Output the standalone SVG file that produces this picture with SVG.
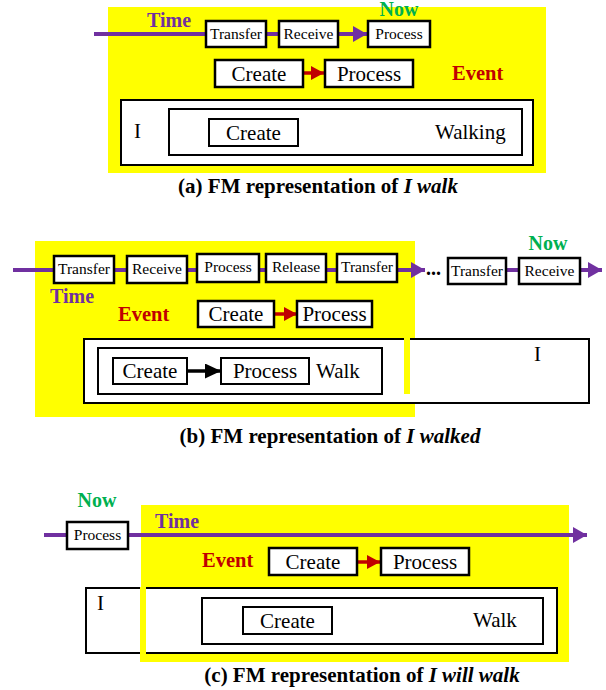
<svg xmlns="http://www.w3.org/2000/svg" width="606" height="690" viewBox="0 0 606 690" font-family="'Liberation Serif', 'DejaVu Serif', serif">
<style>
text{font-family:'Liberation Serif','DejaVu Serif',serif;fill:#000}
.sm{font-size:15.5px;text-anchor:middle}
.lg{font-size:21px;text-anchor:middle}
.plain{font-size:21px}
.time{font-size:20px;font-weight:bold;fill:#7030A0}
.now{font-size:20px;font-weight:bold;fill:#00B050;text-anchor:middle}
.event{font-size:20.5px;font-weight:bold;fill:#C00000}
.cap{font-size:21px;font-weight:bold;text-anchor:middle}
.box{fill:#fff;stroke:#000;stroke-width:2.5}
.frame{fill:#fff;stroke:#000;stroke-width:2}
.yel{fill:#FFFF00}
.tl{stroke:#7030A0;stroke-width:4;fill:none}
.ra{stroke:#C00000;stroke-width:3.5;fill:none}
.ba{stroke:#000;stroke-width:3.5;fill:none}
</style>
<defs>
<marker id="mp" viewBox="0 0 14 16" refX="14" refY="8" markerWidth="14" markerHeight="16" markerUnits="userSpaceOnUse" orient="auto"><path d="M0,0 L14,8 L0,16 z" fill="#7030A0"/></marker>
<marker id="mr" viewBox="0 0 13 14" refX="13" refY="7" markerWidth="13" markerHeight="14" markerUnits="userSpaceOnUse" orient="auto"><path d="M0,0 L13,7 L0,14 z" fill="#C00000"/></marker>
<marker id="mb" viewBox="0 0 16 15" refX="16" refY="7.5" markerWidth="16" markerHeight="15" markerUnits="userSpaceOnUse" orient="auto"><path d="M0,0 L16,7.5 L0,15 z" fill="#000"/></marker>
</defs>

<!-- backgrounds -->
<rect class="yel" x="108" y="7" width="438" height="166"/>
<rect class="yel" x="35" y="241" width="380" height="176"/>
<rect class="yel" x="141" y="505" width="428" height="157"/>

<!-- frames (I boxes) -->
<g id="a-I">
<rect class="frame" x="121" y="100" width="412" height="65"/>
<text class="plain" x="134" y="138">I</text>
</g>
<g id="a-walking">
<rect class="frame" x="169" y="109" width="353" height="46"/>
<text class="plain" x="435" y="139">Walking</text>
</g>
<g id="b-I">
<rect class="frame" x="84" y="339" width="505" height="64"/>
<text class="plain" x="534" y="361">I</text>
</g>
<rect class="yel" x="404" y="338" width="6" height="56"/>
<g id="b-walk">
<rect class="frame" x="98" y="348" width="284" height="46"/>
<text class="plain" x="316" y="378">Walk</text>
</g>
<g id="c-I">
<rect class="frame" x="86" y="588" width="471" height="65"/>
<text class="plain" x="97" y="610">I</text>
</g>
<rect class="yel" x="140" y="587" width="6" height="75"/>
<g id="c-walk">
<rect class="frame" x="202" y="598" width="341" height="46"/>
<text class="plain" x="473" y="627">Walk</text>
</g>

<!-- connectors -->
<g id="connectors">
<line class="tl" x1="94" y1="34" x2="206" y2="34"/>
<line class="tl" x1="266" y1="34" x2="279" y2="34"/>
<line class="tl" x1="338" y1="34" x2="367" y2="34" marker-end="url(#mp)"/>
<line class="ra" x1="303" y1="73" x2="324" y2="73" marker-end="url(#mr)"/>

<line class="tl" x1="13" y1="270" x2="54" y2="270"/>
<line class="tl" x1="114" y1="270" x2="127" y2="270"/>
<line class="tl" x1="187" y1="270" x2="197" y2="270"/>
<line class="tl" x1="259" y1="270" x2="266" y2="270"/>
<line class="tl" x1="326" y1="270" x2="337" y2="270"/>
<line class="tl" x1="397" y1="270" x2="425" y2="270" marker-end="url(#mp)"/>
<line class="tl" x1="506" y1="270" x2="519" y2="270"/>
<line class="tl" x1="580" y1="270" x2="602" y2="270" marker-end="url(#mp)"/>
<line class="ra" x1="274" y1="314" x2="297" y2="314" marker-end="url(#mr)"/>
<line class="ba" x1="187" y1="371" x2="221" y2="371" marker-end="url(#mb)"/>

<line class="tl" x1="44" y1="535" x2="67" y2="535"/>
<line class="tl" x1="128" y1="535" x2="587" y2="535" marker-end="url(#mp)"/>
<line class="ra" x1="357" y1="562" x2="380" y2="562" marker-end="url(#mr)"/>
</g>

<!-- labels -->
<text class="time" x="147" y="27">Time</text>
<text class="now" x="399" y="16">Now</text>
<text class="event" x="452" y="80">Event</text>
<text class="time" x="50" y="303">Time</text>
<text class="now" x="548" y="250">Now</text>
<text class="event" x="118" y="321">Event</text>
<text style="font-size:20px;font-weight:bold" x="426" y="275">...</text>
<text class="now" x="97" y="507">Now</text>
<text class="time" x="155" y="528">Time</text>
<text class="event" x="202" y="567">Event</text>

<!-- panel a nodes -->
<g id="a-transfer"><rect class="box" x="206" y="21" width="60" height="26"/><text class="sm" x="236" y="39">Transfer</text></g>
<g id="a-receive"><rect class="box" x="279" y="21" width="59" height="26"/><text class="sm" x="308.5" y="39">Receive</text></g>
<g id="a-process"><rect class="box" x="368" y="21" width="62" height="26"/><text class="sm" x="399" y="39">Process</text></g>
<g id="a-create2"><rect class="box" x="215" y="60" width="88" height="27"/><text class="lg" x="259" y="81">Create</text></g>
<g id="a-process2"><rect class="box" x="325" y="60" width="88" height="27"/><text class="lg" x="369" y="81">Process</text></g>
<g id="a-create3"><rect class="frame" x="209" y="119" width="89" height="27"/><text class="lg" x="253.5" y="140">Create</text></g>

<!-- panel b nodes -->
<g id="b-transfer1"><rect class="box" x="54" y="256" width="60" height="27"/><text class="sm" x="84" y="274">Transfer</text></g>
<g id="b-receive1"><rect class="box" x="127" y="256" width="60" height="27"/><text class="sm" x="157" y="274">Receive</text></g>
<g id="b-process1"><rect class="box" x="197" y="254" width="62" height="28"/><text class="sm" x="228" y="272">Process</text></g>
<g id="b-release"><rect class="box" x="266" y="254" width="60" height="28"/><text class="sm" x="296" y="272">Release</text></g>
<g id="b-transfer2"><rect class="box" x="337" y="254" width="60" height="28"/><text class="sm" x="367" y="272">Transfer</text></g>
<g id="b-transfer3"><rect class="box" x="448" y="258" width="58" height="26"/><text class="sm" x="477" y="276">Transfer</text></g>
<g id="b-receive2"><rect class="box" x="519" y="258" width="61" height="26"/><text class="sm" x="549.5" y="276">Receive</text></g>
<g id="b-create2"><rect class="box" x="198" y="301" width="76" height="26"/><text class="lg" x="236" y="321">Create</text></g>
<g id="b-process2"><rect class="box" x="297" y="301" width="75" height="26"/><text class="lg" x="334.5" y="321">Process</text></g>
<g id="b-create3"><rect class="frame" x="113" y="358" width="74" height="26"/><text class="lg" x="150" y="378">Create</text></g>
<g id="b-process3"><rect class="frame" x="221" y="358" width="88" height="26"/><text class="lg" x="265" y="378">Process</text></g>

<!-- panel c nodes -->
<g id="c-process1"><rect class="box" x="67" y="522" width="61" height="27"/><text class="sm" x="97.5" y="540">Process</text></g>
<g id="c-create2"><rect class="box" x="269" y="548" width="88" height="27"/><text class="lg" x="313" y="569">Create</text></g>
<g id="c-process2"><rect class="box" x="381" y="548" width="88" height="27"/><text class="lg" x="425" y="569">Process</text></g>
<g id="c-create3"><rect class="frame" x="243" y="607" width="89" height="27"/><text class="lg" x="287.5" y="628">Create</text></g>

<!-- captions -->
<text class="cap" x="318" y="193">(a) FM representation of <tspan font-style="italic">I walk</tspan></text>
<text class="cap" x="330" y="443">(b) FM representation of <tspan font-style="italic">I walked</tspan></text>
<text class="cap" x="362" y="682">(c) FM representation of <tspan font-style="italic">I will walk</tspan></text>
</svg>
